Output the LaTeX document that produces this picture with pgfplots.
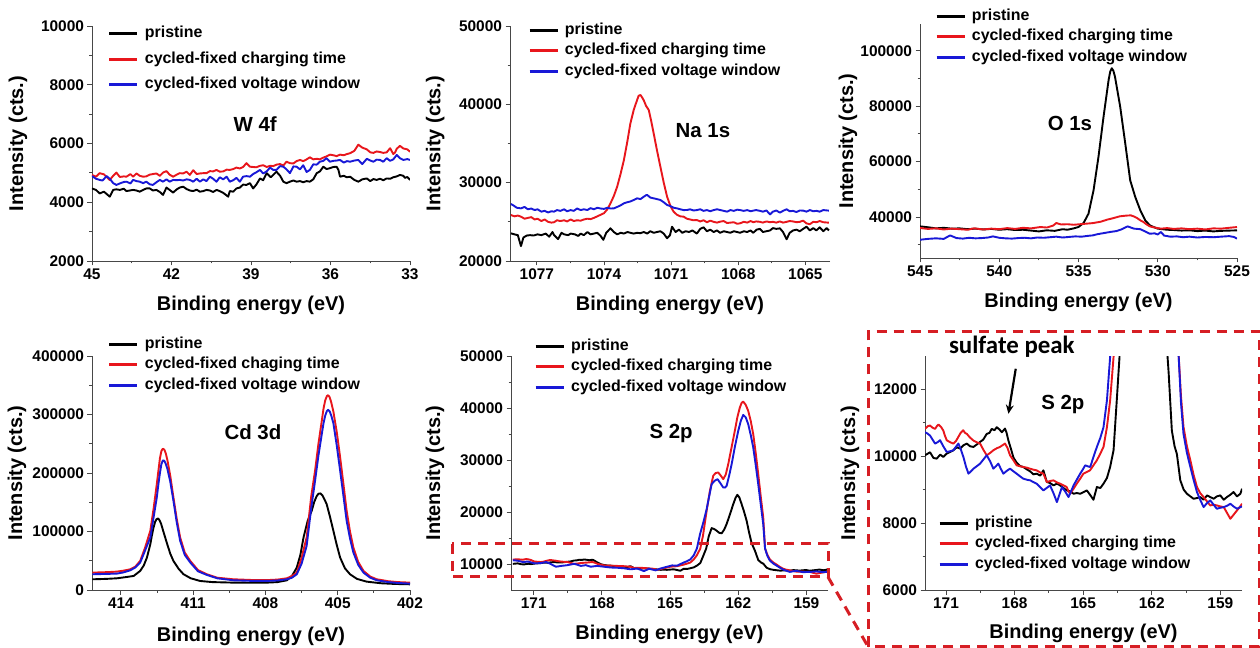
\documentclass[border=0pt]{standalone}
\usepackage{fontspec}
\setmainfont{Liberation Sans}
\newfontfamily\calib{Carlito}
\usepackage{pgfplots}
\usepackage{pgfplotstable}
\pgfplotsset{compat=1.18}
\usetikzlibrary{arrows.meta}

\definecolor{cred}{RGB}{232,22,28}
\definecolor{cblue}{RGB}{24,24,215}
\definecolor{cbox}{RGB}{214,30,36}

\newcommand{\tk}{\fontsize{15.5}{18}\selectfont\bfseries}
\newcommand{\lab}{\fontsize{20}{24}\selectfont\bfseries}
\newcommand{\leg}{\fontsize{16}{19}\selectfont\bfseries}
\newcommand{\ttl}{\fontsize{20.5}{24}\selectfont\bfseries}

% ---------- W 4f ----------
\pgfplotstableread{
x y
45.00 4470
44.85 4420
44.71 4300
44.55 4360
44.33 4190
44.20 4420
44.08 4440
43.95 4420
43.80 4460
43.70 4380
43.45 4420
43.32 4400
43.20 4360
43.07 4420
42.95 4470
42.82 4470
42.70 4400
42.57 4420
42.44 4350
42.32 4250
42.19 4500
42.07 4420
41.94 4330
41.80 4440
41.69 4500
41.56 4530
41.43 4450
41.31 4400
41.18 4380
41.05 4430
40.93 4360
40.80 4380
40.68 4420
40.55 4400
40.43 4350
40.30 4420
40.18 4380
40.05 4320
39.86 4190
39.80 4380
39.67 4360
39.55 4470
39.42 4500
39.30 4600
39.17 4590
39.04 4650
38.92 4470
38.80 4600
38.66 4810
38.54 4750
38.41 4990
38.25 4850
38.04 5040
37.90 4900
37.78 4700
37.66 4650
37.53 4700
37.40 4740
37.28 4700
37.15 4720
37.03 4680
36.90 4720
36.78 4700
36.65 4780
36.52 4990
36.40 5050
36.27 5210
36.15 5130
36.02 5160
35.89 5200
35.77 5210
35.70 5100
35.64 4870
35.50 4900
35.38 4850
35.26 4870
35.10 4760
34.95 4700
34.80 4780
34.63 4810
34.50 4720
34.38 4790
34.26 4760
34.13 4800
34.01 4750
33.88 4810
33.75 4800
33.63 4850
33.50 4880
33.38 4930
33.25 4900
33.19 4830
33.10 4860
33.00 4760
}\wblack
\pgfplotstableread{
x y
45.00 4930
44.85 4870
44.71 4990
44.55 4950
44.33 4760
44.20 4900
44.08 5010
43.95 4860
43.80 4880
43.70 4870
43.55 4960
43.45 4870
43.32 4980
43.20 4900
43.07 4870
42.95 4880
42.82 4940
42.70 4960
42.57 4980
42.44 4900
42.32 5010
42.19 5060
42.07 4940
41.94 4870
41.80 4940
41.69 4990
41.56 4980
41.43 5040
41.31 4930
41.18 5090
41.05 4960
40.93 4980
40.80 4990
40.68 4990
40.55 5060
40.43 5050
40.30 5100
40.18 5040
40.05 5050
39.92 5110
39.80 5100
39.67 5130
39.55 5180
39.42 5150
39.30 5200
39.17 5330
39.04 5210
38.92 5200
38.80 5190
38.66 5240
38.54 5260
38.41 5200
38.28 5240
38.16 5230
38.04 5280
37.90 5300
37.78 5250
37.66 5380
37.53 5330
37.40 5320
37.28 5400
37.15 5440
37.03 5400
36.90 5460
36.78 5530
36.65 5460
36.52 5480
36.40 5460
36.27 5520
36.15 5560
36.02 5620
35.89 5600
35.77 5570
35.64 5620
35.50 5600
35.38 5640
35.26 5670
35.10 5750
34.95 5960
34.80 5860
34.63 5800
34.50 5700
34.38 5680
34.26 5730
34.13 5710
34.01 5680
33.88 5700
33.75 5840
33.63 5640
33.56 5700
33.50 5820
33.38 5920
33.25 5830
33.10 5800
33.00 5720
}\wred
\pgfplotstableread{
x y
45.00 4890
44.85 4800
44.71 4760
44.60 4740
44.45 4890
44.33 4800
44.20 4650
44.08 4590
43.95 4640
43.80 4690
43.70 4700
43.55 4640
43.45 4760
43.32 4720
43.20 4700
43.07 4650
42.95 4700
42.82 4610
42.70 4590
42.57 4680
42.44 4760
42.32 4700
42.19 4780
42.07 4700
41.94 4760
41.80 4750
41.69 4760
41.56 4740
41.43 4780
41.31 4760
41.18 4700
41.05 4800
40.93 4700
40.80 4780
40.68 4720
40.55 4870
40.43 4800
40.30 4700
40.18 4850
40.05 4780
39.92 4870
39.80 4700
39.67 4750
39.55 4830
39.42 4700
39.30 4870
39.17 4890
39.04 4870
38.92 4960
38.80 5020
38.66 5100
38.54 4980
38.41 5050
38.28 5180
38.16 5100
38.04 5100
37.90 5230
37.78 5210
37.66 5120
37.53 4990
37.40 5220
37.28 5210
37.15 5120
37.03 5260
36.90 5030
36.78 5100
36.65 5290
36.52 5280
36.40 5380
36.27 5410
36.15 5500
36.02 5380
35.89 5410
35.77 5420
35.64 5440
35.50 5350
35.38 5400
35.26 5380
35.10 5420
34.95 5440
34.80 5300
34.63 5480
34.50 5420
34.38 5380
34.26 5450
34.13 5440
34.01 5380
33.88 5500
33.75 5410
33.63 5460
33.50 5610
33.38 5500
33.25 5440
33.10 5470
33.00 5440
}\wblue

% ---------- Na 1s ----------
\pgfplotstableread{
x y
1078.16 23530
1078.00 23400
1077.85 23300
1077.71 21900
1077.60 23000
1077.45 23250
1077.30 23300
1077.15 23250
1076.97 23400
1076.80 23300
1076.60 23500
1076.45 23100
1076.30 23700
1076.23 23300
1076.05 22800
1075.90 23600
1075.78 23400
1075.60 23300
1075.49 23500
1075.30 23400
1075.15 23200
1075.04 23500
1074.90 23300
1074.74 23700
1074.60 23400
1074.45 23500
1074.30 23600
1074.15 23200
1074.03 22700
1073.90 23600
1073.71 24170
1073.56 23700
1073.41 23400
1073.25 23600
1073.11 23500
1072.95 23700
1072.82 23600
1072.67 23500
1072.52 23600
1072.37 23550
1072.22 23700
1072.07 23500
1071.93 23800
1071.78 23600
1071.63 23700
1071.48 23800
1071.33 23500
1071.18 22900
1071.05 23300
1070.96 24380
1070.80 23700
1070.65 24000
1070.50 23600
1070.35 23800
1070.20 23700
1070.05 23900
1069.85 23500
1069.70 24100
1069.55 24300
1069.40 23800
1069.25 24000
1069.10 23700
1068.95 23900
1068.81 23600
1068.65 23800
1068.50 23700
1068.35 23600
1068.20 23800
1068.05 23700
1067.92 23600
1067.75 23800
1067.60 23700
1067.45 23900
1067.33 23600
1067.18 24000
1067.03 24100
1066.90 23700
1066.74 23800
1066.58 23900
1066.45 24200
1066.30 24100
1066.14 24170
1066.00 23700
1065.84 22770
1065.70 23600
1065.55 23900
1065.40 24000
1065.25 23800
1065.10 24100
1064.95 24380
1064.80 23900
1064.65 24200
1064.51 23900
1064.36 24300
1064.20 23800
1064.05 24200
1063.95 23900
}\nablack
\pgfplotstableread{
x y
1078.16 25870
1078.00 25700
1077.85 25800
1077.71 25660
1077.55 25400
1077.40 25500
1077.25 25600
1077.10 25300
1076.97 25400
1076.80 25100
1076.65 25300
1076.50 25000
1076.35 24900
1076.23 24950
1076.10 25200
1075.95 25100
1075.78 25200
1075.65 25050
1075.49 25300
1075.35 25100
1075.20 25200
1075.04 25150
1074.90 25300
1074.74 25400
1074.60 25350
1074.45 25500
1074.30 25700
1074.15 25900
1074.00 26100
1073.85 26600
1073.71 27360
1073.56 28300
1073.41 29490
1073.26 31100
1073.11 32890
1072.96 35200
1072.82 37570
1072.67 39300
1072.52 40550
1072.45 41100
1072.37 41190
1072.30 40900
1072.22 40500
1072.12 39800
1072.00 39280
1071.90 38000
1071.78 36300
1071.63 34100
1071.48 32040
1071.33 30000
1071.18 28210
1071.03 27000
1070.89 26300
1070.74 25900
1070.59 25700
1070.44 25660
1070.30 25400
1070.15 25300
1070.00 25200
1069.85 25230
1069.70 25050
1069.55 25200
1069.40 24950
1069.25 25150
1069.10 25000
1068.95 24900
1068.81 25020
1068.65 25100
1068.50 24850
1068.35 24900
1068.20 24950
1068.05 24750
1067.92 24810
1067.75 25000
1067.60 24900
1067.45 25100
1067.33 24950
1067.20 25050
1067.03 25000
1066.90 24900
1066.74 25050
1066.58 24950
1066.45 25000
1066.30 24900
1066.14 25050
1066.00 24900
1065.84 25000
1065.70 25100
1065.55 25050
1065.40 24950
1065.25 25000
1065.10 25150
1064.95 24800
1064.80 24700
1064.65 25000
1064.50 24950
1064.36 25100
1064.20 24950
1063.95 24890
}\nared
\pgfplotstableread{
x y
1078.16 27280
1078.05 27100
1077.90 26800
1077.71 26720
1077.55 26900
1077.40 26600
1077.25 26700
1077.10 26500
1076.97 26600
1076.80 26300
1076.65 26400
1076.50 26200
1076.35 26350
1076.23 26300
1076.10 26500
1075.95 26400
1075.78 26600
1075.65 26350
1075.49 26500
1075.35 26400
1075.20 26700
1075.04 26500
1074.90 26600
1074.74 26510
1074.60 26750
1074.45 26600
1074.30 26800
1074.15 26700
1074.00 26650
1073.85 26800
1073.71 26700
1073.56 26720
1073.41 26900
1073.26 27100
1073.11 27360
1072.96 27500
1072.82 27600
1072.67 27790
1072.52 28000
1072.37 27900
1072.22 28210
1072.12 28400
1072.07 28430
1071.93 28100
1071.78 28000
1071.63 27900
1071.48 27790
1071.33 27500
1071.18 27150
1071.03 27000
1070.89 26800
1070.74 26720
1070.59 26600
1070.44 26500
1070.29 26510
1070.15 26600
1070.00 26450
1069.85 26500
1069.70 26600
1069.55 26400
1069.40 26500
1069.25 26350
1069.10 26500
1068.95 26600
1068.81 26510
1068.65 26400
1068.50 26300
1068.35 26500
1068.20 26400
1068.05 26550
1067.92 26500
1067.75 26400
1067.60 26500
1067.45 26350
1067.33 26430
1067.20 26500
1067.03 26400
1066.90 26300
1066.74 26450
1066.58 25950
1066.45 26300
1066.30 26450
1066.14 26170
1066.00 26400
1065.84 26600
1065.70 26350
1065.55 26400
1065.40 26250
1065.25 26450
1065.10 26430
1064.95 26300
1064.80 26500
1064.65 26350
1064.50 26400
1064.36 26300
1064.20 26500
1063.95 26430
}\nablue

% ---------- O 1s ----------
\pgfplotstableread{
x y
545.0 36620
544.5 36300
544.0 35900
543.5 36100
543.0 35800
542.5 35900
542.0 35600
541.5 35800
541.0 35500
540.5 35700
540.0 35400
539.5 35600
539.0 35300
538.5 35400
538.0 35100
537.5 34800
537.0 35200
536.5 35000
536.0 35600
535.7 35400
535.3 35900
535.0 36400
534.68 37830
534.37 41200
534.05 49660
533.74 61730
533.42 76220
533.10 89500
533.00 92500
532.90 93720
532.80 92800
532.70 90700
532.37 79840
532.05 66560
531.74 53280
531.42 47240
531.10 42410
530.79 38790
530.50 37000
530.26 36380
530.0 35800
529.42 35410
529.0 35300
528.5 35100
528.0 35200
527.5 34900
527.0 35100
526.5 34800
526.0 35000
525.5 35100
525.0 35170
}\oblack
\pgfplotstableread{
x y
545.0 36020
544.5 35700
544.0 35900
543.5 35500
543.0 35800
542.5 35600
542.0 35400
541.6 35900
541.0 35500
540.5 35800
540.0 35600
539.5 36000
539.0 35700
538.5 36100
538.0 35900
537.4 36380
537.0 36200
536.6 36900
536.4 37830
536.1 37300
535.7 37400
535.3 37200
534.9 37400
534.5 37600
534.1 37800
533.6 38300
533.2 39030
532.8 39600
532.4 40240
532.0 40500
531.7 40600
531.5 40200
531.3 39600
531.1 38800
530.9 38190
530.7 37300
530.5 36620
530.2 36200
529.8 35800
529.4 36000
529.0 35700
528.5 35900
528.0 35600
527.5 35800
527.0 35500
526.5 35900
526.0 35800
525.5 36100
525.0 36380
}\ored
\pgfplotstableread{
x y
545.0 31790
544.5 32100
544.0 32300
543.5 32100
543.1 33360
542.7 32400
542.3 32200
541.9 32500
541.5 32300
541.1 32400
540.7 32600
540.4 33000
540.0 32500
539.6 32300
539.2 32200
538.8 32400
538.4 32500
538.0 32300
537.6 32600
537.2 32500
536.8 32700
536.4 32900
536.0 32600
535.6 32800
535.2 33000
534.8 32900
534.4 33200
534.1 33360
533.8 33800
533.4 34200
533.0 34600
532.6 34930
532.3 35500
531.9 36620
531.7 36200
531.5 35800
531.1 35600
530.8 34800
530.5 33960
530.2 34100
530.0 33700
529.8 34600
529.6 33300
529.2 32900
528.8 33000
528.4 32700
528.0 32900
527.5 32600
527.0 32800
526.5 32700
526.0 32900
525.5 33100
525.2 32800
525.0 32200
}\oblue

% ---------- Cd 3d ----------
\pgfplotstableread{
x y
415.18 18300
414.60 19000
414.17 20000
413.80 22000
413.47 24000
413.20 32600
413.05 42000
412.92 55400
412.78 78000
412.72 92000
412.65 106000
412.58 116500
412.52 121000
412.46 122300
412.40 119500
412.33 113000
412.23 99000
412.09 80000
411.95 62000
411.82 49700
411.60 36000
411.40 26900
411.10 20000
410.71 15400
410.20 13500
409.33 12600
408.50 12400
407.94 12600
407.50 13500
407.11 16600
406.90 24000
406.70 38300
406.55 60000
406.42 89700
406.25 118000
406.08 135400
405.98 150000
405.88 160000
405.80 164500
405.72 165100
405.64 162000
405.55 155000
405.46 146900
405.32 125000
405.18 101100
405.04 77000
404.90 55400
404.70 37000
404.49 26900
404.20 19000
403.80 14300
403.20 11500
402.60 10300
402.00 9700
}\cdblack
\pgfplotstableread{
x y
415.18 29700
414.60 30500
414.17 31400
413.90 33000
413.61 35400
413.40 40000
413.20 49700
413.00 72000
412.78 101100
412.64 140000
412.51 181100
412.44 205000
412.38 225000
412.32 237500
412.26 241500
412.20 240000
412.14 234000
412.07 222000
411.95 195000
411.82 158300
411.68 121000
411.54 89700
411.35 64000
411.12 49700
410.80 34000
410.43 26900
410.00 21000
409.33 18300
408.50 17000
407.94 16900
407.50 17800
407.11 20000
406.90 24000
406.70 29700
406.50 55000
406.29 89700
406.10 160000
405.94 204000
405.80 250000
405.66 289700
405.59 310000
405.52 324000
405.45 331500
405.40 333000
405.34 330000
405.27 321000
405.18 305000
405.04 270000
404.90 226900
404.76 180000
404.63 135400
404.49 100000
404.35 72600
404.15 48000
403.93 32600
403.65 23000
403.38 18300
402.90 15000
402.50 13500
402.00 12600
}\cdred
\pgfplotstableread{
x y
415.18 26900
414.60 27500
414.17 28000
413.90 30000
413.61 33700
413.40 38500
413.20 46900
413.00 67000
412.78 89700
412.64 125000
412.51 158300
412.44 182000
412.38 200000
412.32 215000
412.26 221500
412.20 221000
412.14 216000
412.07 207000
411.95 185000
411.82 152600
411.68 115000
411.54 84000
411.35 60000
411.12 46900
410.80 32000
410.43 25700
410.00 20000
409.33 16600
408.50 15500
407.94 15500
407.50 16300
407.11 18300
406.90 21000
406.70 26900
406.50 45000
406.29 75400
406.10 140000
405.94 186900
405.80 230000
405.66 266900
405.59 285000
405.52 298000
405.45 306000
405.40 308000
405.33 305000
405.26 297000
405.18 285000
405.04 247000
404.90 204000
404.76 160000
404.63 118300
404.49 88000
404.35 64000
404.15 43000
403.93 29700
403.65 21000
403.38 16600
402.90 13500
402.50 12000
402.00 10900
}\cdblue

% ---------- S 2p ----------
\pgfplotstableread{
x y
171.92 10030
171.70 10120
171.55 9950
171.41 9930
171.25 10050
171.12 9980
170.97 10080
170.82 10130
170.68 10180
170.53 10270
170.38 10230
170.24 10330
170.09 10380
169.95 10300
169.80 10280
169.66 10350
169.51 10430
169.37 10500
169.22 10670
169.10 10700
169.00 10820
168.88 10780
168.78 10870
168.66 10800
168.56 10720
168.48 10780
168.42 10830
168.35 10700
168.27 10470
168.15 10200
168.05 9960
167.90 9800
167.76 9710
167.62 9680
167.47 9610
167.32 9550
167.18 9460
167.03 9480
166.88 9420
166.74 9580
166.59 9230
166.45 9200
166.30 9130
166.15 9180
166.01 9130
165.86 9050
165.72 8980
165.57 8950
165.42 8880
165.28 8900
165.13 8880
164.98 8930
164.84 8980
164.70 8850
164.55 8700
164.40 9080
164.25 9050
164.11 9180
163.96 9350
163.82 9680
163.67 10180
163.53 11670
163.41 12970
163.30 15300
163.17 16900
163.05 16700
162.95 16400
162.84 16000
162.73 15900
162.62 16600
162.51 17700
162.37 19500
162.22 21500
162.12 22700
162.04 23300
161.95 22800
161.85 21500
161.74 20000
161.63 18300
161.52 16000
161.41 14000
161.26 12500
161.12 10770
161.00 10300
160.90 10070
160.75 9280
160.60 9000
160.46 8880
160.31 8800
160.17 8730
160.02 8750
159.88 8780
159.73 8700
159.58 8830
159.44 8780
159.29 8730
159.15 8800
159.00 8830
158.85 8700
158.71 8780
158.56 8850
158.42 8930
158.27 8800
158.12 8880
158.05 9030
}\sblack
\pgfplotstableread{
x y
171.92 10820
171.80 10900
171.70 10920
171.60 10860
171.48 10820
171.40 10900
171.33 10950
171.22 10880
171.12 10770
171.05 10620
170.97 10480
170.82 10420
170.68 10380
170.57 10450
170.47 10570
170.36 10700
170.25 10780
170.17 10700
170.09 10670
169.95 10560
169.80 10470
169.66 10420
169.51 10380
169.37 10200
169.22 10030
169.07 10100
168.93 10180
168.78 10240
168.64 10280
168.53 10330
168.42 10380
168.31 10250
168.20 10030
168.05 9880
167.91 9730
167.76 9700
167.62 9680
167.47 9660
167.33 9630
167.18 9600
167.04 9580
166.89 9520
166.74 9480
166.66 9350
166.59 9230
166.45 9260
166.30 9280
166.15 9220
166.01 9180
165.86 9130
165.72 9080
165.64 8950
165.57 8880
165.42 9030
165.28 9180
165.13 9330
164.99 9480
164.84 9530
164.70 9580
164.55 9730
164.40 9880
164.25 10080
164.11 10280
163.96 10870
163.82 11670
163.67 12970
163.55 15500
163.39 20240
163.25 24000
163.10 26990
162.99 27500
162.88 27600
162.77 27000
162.66 26320
162.55 27200
162.44 29200
162.30 32300
162.15 35600
162.04 38200
161.93 40080
161.85 41000
161.78 41230
161.67 40600
161.56 39440
161.45 37500
161.34 34960
161.23 31300
161.12 27280
161.01 23000
160.90 18960
160.82 13000
160.72 11800
160.61 10880
160.46 10300
160.31 9880
160.17 9450
160.02 9080
159.88 8900
159.73 8780
159.58 8650
159.44 8530
159.29 8550
159.15 8530
159.00 8500
158.85 8480
158.70 8300
158.56 8130
158.42 8250
158.27 8380
158.15 8480
158.05 8580
}\sred
\pgfplotstableread{
x y
171.92 10720
171.81 10680
171.70 10620
171.59 10500
171.48 10380
171.37 10420
171.26 10480
171.12 10300
170.97 10130
170.82 10150
170.68 10180
170.57 10280
170.46 10380
170.35 10200
170.24 9980
170.13 9700
170.02 9480
169.91 9550
169.80 9630
169.66 9700
169.51 9780
169.37 9900
169.22 10030
169.07 9850
168.93 9630
168.82 9700
168.71 9780
168.60 9620
168.49 9480
168.35 9560
168.20 9630
168.05 9550
167.91 9480
167.76 9400
167.62 9330
167.47 9300
167.32 9280
167.18 9230
167.03 9180
166.89 9080
166.74 8980
166.60 9050
166.45 9130
166.30 8900
166.15 8630
166.04 8850
165.93 9080
165.79 8950
165.64 8780
165.53 8950
165.42 9130
165.28 9300
165.13 9480
165.02 9600
164.91 9730
164.80 9700
164.69 9680
164.55 9980
164.40 10280
164.25 10550
164.11 10870
163.96 11670
163.82 12970
163.68 15760
163.53 18100
163.39 20560
163.28 23000
163.17 25360
163.04 26000
162.91 26320
162.78 25500
162.66 24720
162.58 24700
162.51 25040
162.40 27000
162.29 29200
162.15 32500
162.00 35600
161.89 37500
161.78 38670
161.67 38200
161.56 36880
161.45 34800
161.34 32400
161.23 29000
161.12 25360
161.01 21500
160.90 17680
160.82 12970
160.72 11600
160.61 10670
160.46 10100
160.31 9680
160.17 9300
160.02 8930
159.88 8700
159.73 8480
159.58 8600
159.44 8680
159.29 8550
159.15 8430
159.00 8460
158.85 8480
158.70 8520
158.56 8580
158.42 8500
158.27 8430
158.15 8470
158.05 8500
}\sblue

\pgfplotsset{
  xps/.style={
    scale only axis,
    axis x line=bottom, axis y line=left,
    axis line style={-, line width=0.9bp, black!72},
    x dir=reverse,
    tick align=outside,
    major tick length=4.5bp, minor tick length=2.5bp,
    every tick/.style={black!72, line width=0.9bp},
    tick label style={font=\tk},
    scaled y ticks=false, scaled x ticks=false,
    /pgf/number format/fixed,
    /pgf/number format/precision=1,
    /pgf/number format/1000 sep={},
    /pgf/number format/assume math mode=true,
    xlabel={Binding energy (eV)},
    ylabel={Intensity (cts.)},
    label style={font=\lab},
    clip mode=individual,
    legend cell align=left,
    legend image code/.code={\draw[##1, line width=2.8bp] (0bp,0bp) -- (28bp,0bp);},
    legend style={draw=none, fill=none, anchor=north west, inner sep=0pt,
      font=\leg, row sep=5.5bp, column sep=6bp,
      nodes={inner sep=0pt, text height=11.5bp, text depth=3.5bp}},
  },
  pk/.style={line width=1.9bp, line join=round},
}

\begin{document}
\begin{tikzpicture}
\useasboundingbox (0,0) rectangle (1260bp,648bp);

% W 4f
\begin{axis}[xps, at={(92bp,387bp)}, anchor=south west, width=318bp, height=235bp,
  xmin=33, xmax=45, ymin=2000, ymax=10000,
  xtick={45,42,39,36,33}, minor xtick={43.5,40.5,37.5,34.5},
  ytick={2000,4000,6000,8000,10000}, minor ytick={3000,5000,7000,9000},
  xlabel style={at={(axis description cs:0.5,0)}, anchor=center, yshift=-44bp},
  ylabel style={at={(axis description cs:-0.233,0.5)}, anchor=center},
  legend style={at={(axis description cs:0.050,1.000)}, row sep=10.5bp}]
\addplot[pk, black] table {\wblack};
\addplot[pk, cred] table {\wred};
\addplot[pk, cblue] table {\wblue};
\legend{pristine, cycled-fixed charging time, cycled-fixed voltage window}
\node[font=\ttl] at (axis description cs:0.513,0.583) {W 4f};
\end{axis}

% Na 1s
\begin{axis}[xps, at={(510bp,387bp)}, anchor=south west, width=320bp, height=235bp,
  xmin=1063.9, xmax=1078.2, ymin=20000, ymax=50000,
  xtick={1077,1074,1071,1068,1065}, minor xtick={1075.5,1072.5,1069.5,1066.5},
  ytick={20000,30000,40000,50000}, minor ytick={25000,35000,45000},
  xlabel style={at={(axis description cs:0.5,0)}, anchor=center, yshift=-44bp},
  ylabel style={at={(axis description cs:-0.234,0.5)}, anchor=center},
  legend style={at={(axis description cs:0.056,1.015)}}]
\addplot[pk, black] table {\nablack};
\addplot[pk, cred] table {\nared};
\addplot[pk, cblue] table {\nablue};
\legend{pristine, cycled-fixed charging time, cycled-fixed voltage window}
\node[font=\ttl] at (axis description cs:0.603,0.557) {Na 1s};
\end{axis}

% O 1s
\begin{axis}[xps, at={(920bp,390bp)}, anchor=south west, width=317bp, height=234bp,
  xmin=525, xmax=545, ymin=25200, ymax=109700,
  xtick={545,540,535,530,525}, minor xtick={542.5,537.5,532.5,527.5},
  ytick={40000,60000,80000,100000}, minor ytick={30000,50000,70000,90000},
  xlabel style={at={(axis description cs:0.5,0)}, anchor=center, yshift=-44bp},
  ylabel style={at={(axis description cs:-0.227,0.5)}, anchor=center},
  legend style={at={(axis description cs:0.047,1.066)}}]
\addplot[pk, black] table {\oblack};
\addplot[pk, cred] table {\ored};
\addplot[pk, cblue] table {\oblue};
\legend{pristine, cycled-fixed charging time, cycled-fixed voltage window}
\node[font=\ttl] at (axis description cs:0.473,0.573) {O 1s};
\end{axis}

% Cd 3d
\begin{axis}[xps, at={(92bp,58bp)}, anchor=south west, width=318bp, height=234bp,
  xmin=402, xmax=415.2, ymin=0, ymax=400000,
  xtick={414,411,408,405,402}, minor xtick={412.5,409.5,406.5,403.5},
  ytick={0,100000,200000,300000,400000}, minor ytick={50000,150000,250000,350000},
  xlabel style={at={(axis description cs:0.5,0)}, anchor=center, yshift=-46bp},
  ylabel style={at={(axis description cs:-0.236,0.5)}, anchor=center},
  legend style={at={(axis description cs:0.050,1.083)}}]
\addplot[pk, black] table {\cdblack};
\addplot[pk, cred] table {\cdred};
\addplot[pk, cblue] table {\cdblue};
\legend{pristine, cycled-fixed chaging time, cycled-fixed voltage window}
\node[font=\ttl] at (axis description cs:0.506,0.675) {Cd 3d};
\end{axis}

% S 2p
\begin{axis}[xps, at={(511bp,58bp)}, anchor=south west, width=317bp, height=234bp,
  xmin=158.05, xmax=172, ymin=5000, ymax=50000,
  xtick={171,168,165,162,159}, minor xtick={169.5,166.5,163.5,160.5},
  ytick={10000,20000,30000,40000,50000}, minor ytick={15000,25000,35000,45000},
  xlabel style={at={(axis description cs:0.5,0)}, anchor=center, yshift=-44bp},
  ylabel style={at={(axis description cs:-0.240,0.5)}, anchor=center},
  legend style={at={(axis description cs:0.073,1.075)}}]
\addplot[pk, black] table {\sblack};
\addplot[pk, cred] table {\sred};
\addplot[pk, cblue] table {\sblue};
\legend{pristine, cycled-fixed charging time, cycled-fixed voltage window}
\node[font=\ttl] at (axis description cs:0.505,0.667) {S 2p};
\end{axis}

% S 2p zoom
\begin{axis}[xps, at={(925bp,58bp)}, anchor=south west, width=317bp, height=234bp,
  xmin=158.05, xmax=171.92, ymin=6000, ymax=13000,
  xtick={171,168,165,162,159}, minor xtick={169.5,166.5,163.5,160.5},
  ytick={6000,8000,10000,12000}, minor ytick={7000,9000,11000},
  xlabel style={at={(axis description cs:0.5,0)}, anchor=center, yshift=-43bp},
  ylabel style={at={(axis description cs:-0.237,0.5)}, anchor=center},
  legend style={at={(axis description cs:0.041,0.318)}}]
\addplot[pk, black] table {\sblack};
\addplot[pk, cred] table {\sred};
\addplot[pk, cblue] table {\sblue};
\legend{pristine, cycled-fixed charging time, cycled-fixed voltage window}
\node[font=\ttl] at (axis description cs:0.435,0.791) {S 2p};
\node[font=\calib\bfseries\fontsize{25}{30}\selectfont] at (axis description cs:0.274,1.038) {sulfate peak};
\draw[-{Stealth[length=9bp,width=8bp]}, line width=2.2bp] (axis cs:167.95,12618) -- (axis cs:168.27,11272);
\end{axis}

% zoom frames
\begin{scope}[cbox, line width=3bp, dash pattern=on 10bp off 7bp]
\draw (452bp,104bp) rectangle (828bp,71bp);
\draw (828bp,71bp) -- (868bp,1.5bp);
\draw (868bp,1.5bp) rectangle (1259bp,316bp);
\end{scope}
\end{tikzpicture}
\end{document}
